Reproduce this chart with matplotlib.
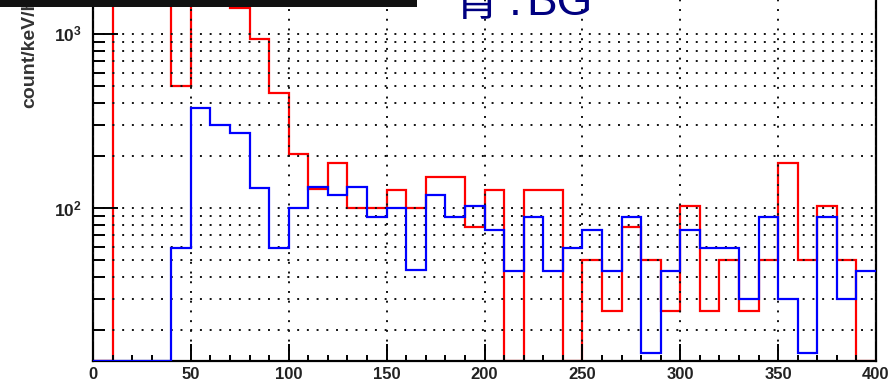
import numpy as np
import matplotlib
matplotlib.use("Agg")
import matplotlib.pyplot as plt
from matplotlib.patches import Rectangle
from matplotlib.ticker import FixedLocator, FuncFormatter, LogLocator, NullFormatter

# ---- data (counts per 10 keV bin, 0..400 keV) ----
bin_edges = list(range(0, 401, 10))
red_counts = [0, 4000, 4000, 4000, 500, 3000, 2500, 1410, 935, 458,
              204, 128, 181, 100, 100, 127, 100, 151, 151, 78,
              127, 0, 127, 127, 0, 50, 25.6, 78, 50, 25.6,
              102, 25.6, 50, 25.6, 50, 181, 50, 102, 50, 0]
blue_counts = [0, 0, 0, 0, 59, 376, 300, 270, 130, 59,
               100, 132, 119, 132, 89, 100, 44, 119, 89, 102,
               75, 43.5, 89, 43.5, 59, 75, 43.5, 89, 14.7, 43.5,
               75, 59, 59, 30, 89, 30, 14.7, 89, 30, 43.5]
x_ticks = [0, 50, 100, 150, 200, 250, 300, 350, 400]
y_major = [100, 1000]
y_label = "count/keV/h"
title_parts = ["青", ":", "BG"]

W, H = 889, 386
DPI = 100
fig = plt.figure(figsize=(W / DPI, H / DPI), dpi=DPI, facecolor="white")

plt.rcParams["mathtext.fontset"] = "custom"
plt.rcParams["mathtext.rm"] = "Liberation Sans:bold"
plt.rcParams["mathtext.bf"] = "Liberation Sans:bold"
plt.rcParams["mathtext.it"] = "Liberation Sans:bold"

left, right, bottom_px = 93, 876, 361
ax = fig.add_axes([left / W, (H - bottom_px) / H, (right - left) / W, bottom_px / H])

ymin, ymax = 13.2, 1567
ax.set_yscale("log")
ax.set_xlim(0, 400)
ax.set_ylim(ymin, ymax)

edges = np.array(bin_edges, dtype=float)
red = np.array(red_counts, dtype=float)
blue = np.array(blue_counts, dtype=float)
ax.stairs(np.where(red > 0, red, ymin), edges, baseline=None, color="#ff0000", lw=1.6, zorder=2)
ax.stairs(np.where(blue > 0, blue, ymin), edges, baseline=None, color="#0000ff", lw=1.6, zorder=3)

ax.set_axisbelow(False)
for s in ("left", "right", "bottom"):
    ax.spines[s].set_linewidth(1.6)
    ax.spines[s].set_color("black")
    ax.spines[s].set_zorder(2.5)
ax.spines["top"].set_visible(False)

ax.xaxis.set_major_locator(FixedLocator(x_ticks))
ax.xaxis.set_minor_locator(FixedLocator(list(range(0, 401, 10))))
ax.yaxis.set_major_locator(FixedLocator(y_major))
ax.yaxis.set_minor_locator(LogLocator(base=10, subs=np.arange(2, 10)))
ax.yaxis.set_minor_formatter(NullFormatter())
ax.yaxis.set_major_formatter(FuncFormatter(lambda v, p: r"$\mathbf{10^{%d}}$" % round(np.log10(v))))

ax.tick_params(axis="x", which="major", direction="in", length=12, width=1.4, pad=4,
               labelsize=12, top=False)
ax.tick_params(axis="x", which="minor", direction="in", length=4.5, width=1.4, top=False)
ax.tick_params(axis="y", which="major", direction="in", length=18, width=1.4, pad=8,
               labelsize=12.5, right=False)
ax.tick_params(axis="y", which="minor", direction="in", length=8.5, width=1.4, right=False)
for lab in ax.get_xticklabels():
    lab.set_fontfamily("Liberation Sans")
    lab.set_fontweight("bold")
    lab.set_color("#222222")
for lab in ax.get_yticklabels():
    lab.set_color("#222222")

ax.grid(True, axis="x", which="major", color="#111111", linestyle=(0, (1, 4)), lw=1.4)
ax.grid(True, axis="y", which="both", color="#111111", linestyle=(0, (1, 4)), lw=1.4)

# y label (rotated, partially cut at top)
fig.text(34 / W, (H - 108) / H, y_label, rotation=90, rotation_mode="anchor",
         ha="left", va="baseline", fontsize=14, fontweight="bold",
         family="Liberation Sans", color="#333333")

# title text (cut at top)
base_y = (H - 15) / H
fig.text(476 / W, base_y, title_parts[0], ha="center", va="baseline", fontsize=33,
         family=["Noto Sans CJK JP", "Liberation Sans"], color="#000080")
fig.text(515 / W, base_y, title_parts[1], ha="center", va="baseline", fontsize=33,
         family="Liberation Sans", color="#000080")
fig.text(593 / W, base_y, title_parts[2], ha="right", va="baseline", fontsize=33,
         family="Liberation Sans", color="#000080")

# black bar at top-left
fig.add_artist(Rectangle((0, 1 - 7 / H), 417 / W, 7 / H, transform=fig.transFigure,
                         facecolor="#111111", edgecolor="none", zorder=10))

fig.savefig("out.png", dpi=DPI, facecolor="white")
